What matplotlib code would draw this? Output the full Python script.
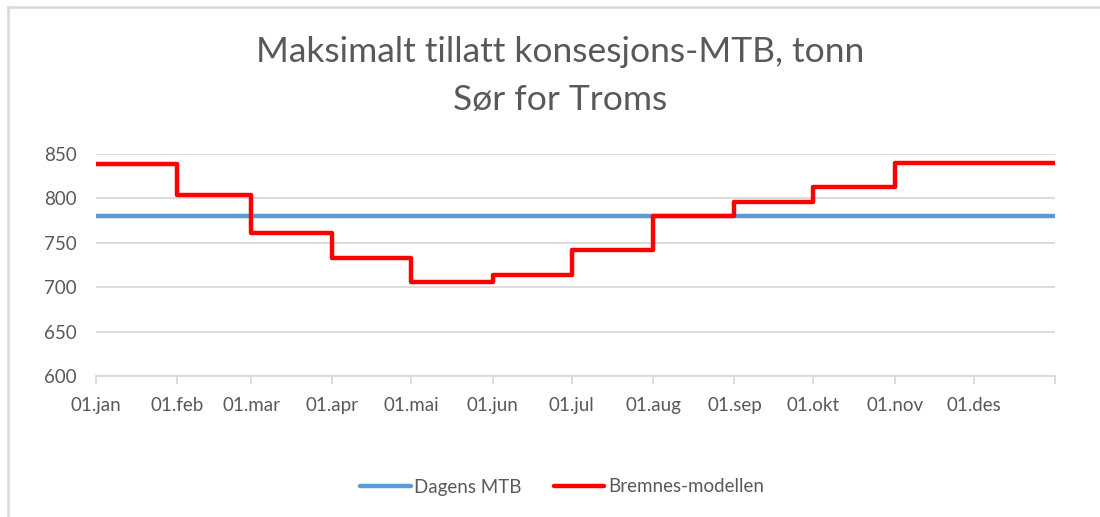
import matplotlib
matplotlib.use("Agg")
import matplotlib.pyplot as plt
from matplotlib.lines import Line2D
import datetime as dt

plt.rcParams['font.family'] = ['Lato', 'DejaVu Sans']

# ---- data ----
month_labels = ["01.jan", "01.feb", "01.mar", "01.apr", "01.mai", "01.jun",
                "01.jul", "01.aug", "01.sep", "01.okt", "01.nov", "01.des"]
month_starts = [dt.date(2023, m, 1) for m in range(1, 13)] + [dt.date(2024, 1, 1)]
dagens_mtb = [780] * 12
bremnes = [839, 804, 761, 733, 706, 714, 742, 780, 796, 813, 840, 840]
y_ticks = [600, 650, 700, 750, 800, 850]
y_tick_labels = ["600", "650", "700", "750", "800", "850"]

W, H = 1100, 517
fig = plt.figure(figsize=(W / 100, H / 100), dpi=100)
ax = fig.add_axes([96 / W, 1 - 376 / H, (1055 - 96) / W, (376 - 154) / H])

grid_c = "#d9d9d9"
text_c = "#595959"

ax.step(month_starts, dagens_mtb + [dagens_mtb[-1]], where="post",
        color="#5b9bd5", lw=3.2, solid_capstyle="round", label="Dagens MTB", zorder=3)
ax.step(month_starts, bremnes + [bremnes[-1]], where="post",
        color="#ff0000", lw=3.2, solid_capstyle="round", solid_joinstyle="round",
        label="Bremnes-modellen", zorder=4)

ax.set_xlim(month_starts[0], month_starts[-1])
ax.set_ylim(600, 850)
ax.set_yticks(y_ticks)
ax.set_yticklabels(y_tick_labels)
ax.set_xticks(month_starts)
ax.set_xticklabels(month_labels + [""])

for s in ["top", "right", "left"]:
    ax.spines[s].set_visible(False)
ax.spines["bottom"].set_color(grid_c)
ax.spines["bottom"].set_linewidth(1.3)
ax.grid(axis="y", color=grid_c, lw=1.3)
ax.set_axisbelow(True)
ax.tick_params(axis="y", length=0, pad=14, labelsize=13.5, labelcolor=text_c)
ax.tick_params(axis="x", length=6, width=1.3, color=grid_c, pad=9,
               labelsize=13.5, labelcolor=text_c)

fig.text(560 / W, 1 - 52 / H, "Maksimalt tillatt konsesjons-MTB, tonn",
         ha="center", va="center", fontsize=25.5, color=text_c)
fig.text(560 / W, 1 - 100 / H, "Sør for Troms",
         ha="center", va="center", fontsize=25.5, color=text_c)

fig.legend(loc="center", bbox_to_anchor=(562 / W, 1 - 487 / H), ncol=2,
           frameon=False, fontsize=13.5, labelcolor=text_c,
           handlelength=2.7, handletextpad=0.2, columnspacing=1.7)

fig.add_artist(Line2D([8 / W, 1], [1 - 7 / H, 1 - 7 / H], color=grid_c, lw=1.8,
                      transform=fig.transFigure))
fig.add_artist(Line2D([8 / W, 8 / W], [0, 1 - 7 / H], color=grid_c, lw=1.8,
                      transform=fig.transFigure))

fig.savefig("out.png", dpi=100, facecolor="white")
